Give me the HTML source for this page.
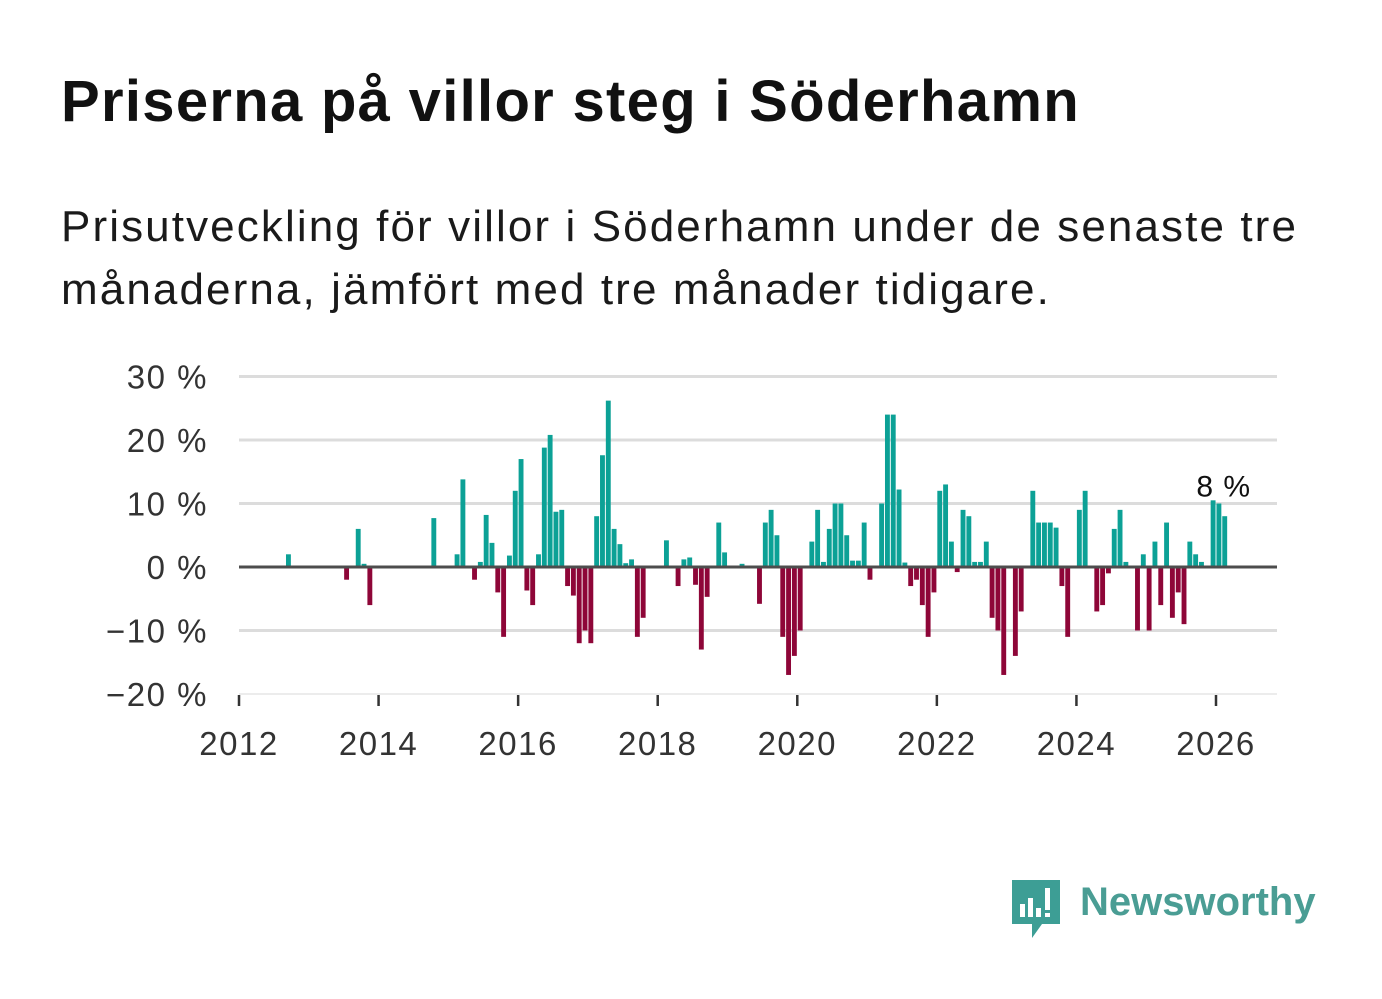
<!DOCTYPE html>
<html><head><meta charset="utf-8"><style>
body{margin:0;background:#fff;font-family:"Liberation Sans","DejaVu Sans",sans-serif;}
#wrap{position:relative;width:1382px;height:999px;overflow:hidden;}
h1{position:absolute;left:61px;top:68px;margin:0;font-size:58px;font-weight:bold;color:#111;letter-spacing:1.3px;white-space:nowrap}
p{position:absolute;left:61px;top:195px;margin:0;font-size:44px;line-height:63px;color:#1a1a1a;width:1310px;letter-spacing:2.1px}
</style></head><body>
<div id="wrap">
<h1>Priserna på villor steg i Söderhamn</h1>
<p>Prisutveckling för villor i Söderhamn under de senaste tre månaderna, jämfört med tre månader tidigare.</p>
<svg id="chart" width="1382" height="999" style="position:absolute;left:0;top:0"></svg>
<div style="position:absolute;left:1012px;top:880px;">
<svg width="50" height="60">
<path d="M0 0 H48 V44 H30 L20 58 V44 H0 Z" fill="#3d9e95"/>
<rect x="8" y="24" width="5" height="13" fill="#fff"/><rect x="16" y="18" width="5" height="19" fill="#fff"/>
<rect x="24" y="28" width="5" height="9" fill="#fff"/><rect x="33" y="8" width="5" height="22" fill="#fff"/><rect x="33" y="33" width="5" height="4" fill="#fff"/>
</svg>
<span style="position:absolute;left:68px;top:0px;font-size:40px;font-weight:bold;color:#4a9d94;white-space:nowrap">Newsworthy</span>
</div>
</div>
<script>
const startYear = 2012;
const values = [0,0,0,0,0,0,0,0,2,0,0,0,0,0,0,0,0,0,-2,0,6,0.5,-6,0,0,0,0,0,0,0,0,0,0,7.7,0,0,0,2,13.8,0,-2,0.8,8.2,3.8,-4,-11,1.8,12,17,-3.7,-6,2,18.8,20.8,8.7,9,-3,-4.5,-12,-10,-12,8,17.6,26.2,6,3.6,0.6,1.2,-11,-8,0,0,0,4.2,0,-3,1.2,1.5,-2.8,-13,-4.7,0,7,2.3,0,0,0.5,0,0,-5.8,7,9,5,-11,-17,-14,-10,0,4,9,0.8,6,10,10,5,1,1,7,-2,0,10,24,24,12.2,0.7,-3,-2,-6,-11,-4,12,13,4,-0.8,9,8,0.8,0.8,4,-8,-10,-17,0,-14,-7,0,12,7,7,7,6.2,-3,-11,0,9,12,0,-7,-6,-1,6,9,0.8,0,-10,2,-10,4,-6,7,-8,-4,-9,4,2,0.8,0,10.5,10,8];
const yTicks = [30,20,10,0,-10,-20];
const yTickLabels = ["30 %","20 %","10 %","0 %","−10 %","−20 %"];
const xTicks = [2012,2014,2016,2018,2020,2022,2024,2026];
const lastLabel = "8 %";

const svg = document.getElementById('chart');
const NS = 'http://www.w3.org/2000/svg';
const x0 = 239, pxPerYear = (1216-239)/14, plotRight = 1277;
const xScale = t => x0 + (t - startYear) * pxPerYear;
const yScale = v => 567 - v * 6.35;
function mk(tag, attrs){const e=document.createElementNS(NS,tag);for(const k in attrs)e.setAttribute(k,attrs[k]);svg.appendChild(e);return e;}

yTicks.forEach((v,i)=>{
  const g = mk('line',{x1:x0,x2:plotRight,y1:yScale(v),y2:yScale(v),stroke:v===-20?'#e6e6e6':'#dcdcdc','stroke-width':v===-20?1.5:3});
  
  
  const t = mk('text',{x:208,y:yScale(v)+12,'text-anchor':'end','font-size':33,'letter-spacing':1.5,fill:'#333'});
  t.textContent = yTickLabels[i];
  
  
});
xTicks.forEach(yr=>{
  const tk = mk('line',{x1:xScale(yr),x2:xScale(yr),y1:695,y2:706,stroke:'#333','stroke-width':2.5});
  
  
  const t = mk('text',{x:xScale(yr),y:755,'text-anchor':'middle','font-size':33,'letter-spacing':1.5,fill:'#333'});
  t.textContent = yr;
  
  
});
const mw = pxPerYear/12;
values.forEach((v,i)=>{
  if(v===0) return;
  const cx = xScale(startYear + (i+0.5)/12);
  const y1 = yScale(Math.max(v,0)), y2 = yScale(Math.min(v,0));
  const r = mk('rect',{x:cx-mw*0.42,y:y1,width:mw*0.84,height:y2-y1,fill:v>0?'#0ca196':'#8e0638'});
  
  
});
const z = mk('line',{x1:x0,x2:plotRight,y1:yScale(0),y2:yScale(0),stroke:'#4d4d4d','stroke-width':3});


const li = values.length-1;
const lt = mk('text',{x:xScale(startYear+(li+0.5)/12)-1,y:yScale(values[li-2])-12+8,'text-anchor':'middle','font-size':30,'letter-spacing':1,fill:'#111'});
lt.textContent = lastLabel;


</script>
</body></html>
